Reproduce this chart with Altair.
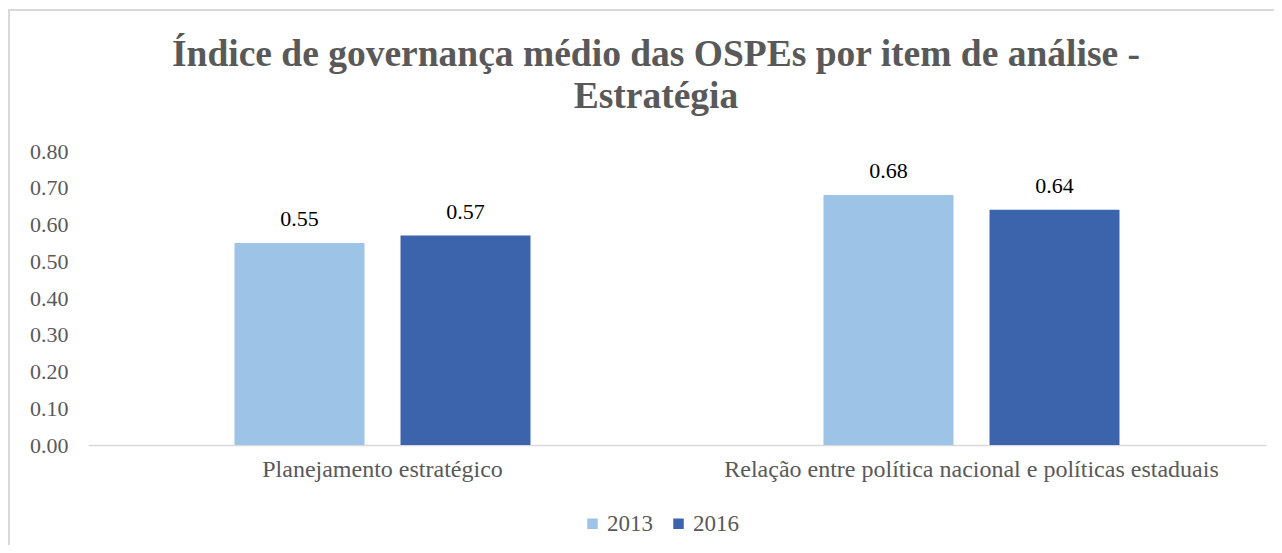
import altair as alt
import pandas as pd

title_lines = ["Índice de governança médio das OSPEs por item de análise -", "Estratégia"]
categories = ["Planejamento estratégico", "Relação entre política nacional e políticas estaduais"]
years = ["2013", "2016"]
v2013 = [0.55, 0.68]
v2016 = [0.57, 0.64]
colors = ["#9DC3E6", "#3B64AD"]

rows = []
for i, c in enumerate(categories):
    rows.append({"cat": c, "ano": years[0], "valor": v2013[i]})
    rows.append({"cat": c, "ano": years[1], "valor": v2016[i]})
df = pd.DataFrame(rows)

FONT = "Liberation Serif"
GRAY = "#595959"

x_enc = alt.X("cat:N", sort=categories, title=None,
              scale=alt.Scale(paddingInner=0, paddingOuter=0),
              axis=alt.Axis(labelAngle=0, labelFont=FONT, labelFontSize=24, labelColor=GRAY,
                            labelLimit=0, labelPadding=12, ticks=False,
                            domainColor="#D9D9D9", domainWidth=1.5))
xo_enc = alt.XOffset("ano:N", sort=years,
                     scale=alt.Scale(paddingInner=0.217, paddingOuter=0.8825))
y_enc = alt.Y("valor:Q", title=None,
              scale=alt.Scale(domain=[0, 0.8], nice=False),
              axis=alt.Axis(values=[0, 0.1, 0.2, 0.3, 0.4, 0.5, 0.6, 0.7, 0.8], format=".2f",
                            grid=False, domain=False, ticks=False, labelFont=FONT,
                            labelOverlap=False, labelFontSize=22, labelColor=GRAY,
                            labelPadding=20))

base = alt.Chart(df)

bars = base.mark_bar().encode(
    x=x_enc, xOffset=xo_enc, y=y_enc,
    color=alt.Color("ano:N", sort=years, title=None,
                    scale=alt.Scale(domain=years, range=colors),
                    legend=alt.Legend(orient="none", direction="horizontal", legendX=493, legendY=361,
                                      symbolType="square", symbolSize=110, symbolStrokeWidth=0,
                                      labelFont=FONT, labelFontSize=23, labelColor=GRAY,
                                      labelOffset=3, columnPadding=14, padding=0)),
)

labels = base.mark_text(font=FONT, fontSize=22, color="#000000", baseline="alphabetic", dy=-17).encode(
    x=x_enc, xOffset=xo_enc, y=y_enc,
    text=alt.Text("valor:Q", format=".2f"),
)

frame = alt.Chart(pd.DataFrame({"k": [0]})).mark_rect(fill=None, stroke="#D9D9D9", strokeWidth=2).encode(
    x=alt.value(-79), x2=alt.value(1300), y=alt.value(-141), y2=alt.value(500)
)

title1 = alt.Chart(pd.DataFrame({"t": [title_lines[0]]})).mark_text(
    font=FONT, fontSize=37.5, fontWeight="bold", color=GRAY, align="center", baseline="alphabetic"
).encode(text="t:N", x=alt.value(568), y=alt.value(-85))

title2 = alt.Chart(pd.DataFrame({"t": [title_lines[1]]})).mark_text(
    font=FONT, fontSize=37.5, fontWeight="bold", color=GRAY, align="center", baseline="alphabetic"
).encode(text="t:N", x=alt.value(568), y=alt.value(-43))

chart = alt.layer(frame, bars, labels, title1, title2).properties(
    width=1178, height=294,
    padding={"left": 80, "top": 143, "right": 8, "bottom": 100},
    autosize=alt.AutoSizeParams(type="none"),
).configure_view(stroke=None)

chart.save("out.html", embed_options={"renderer": "svg", "actions": False})
